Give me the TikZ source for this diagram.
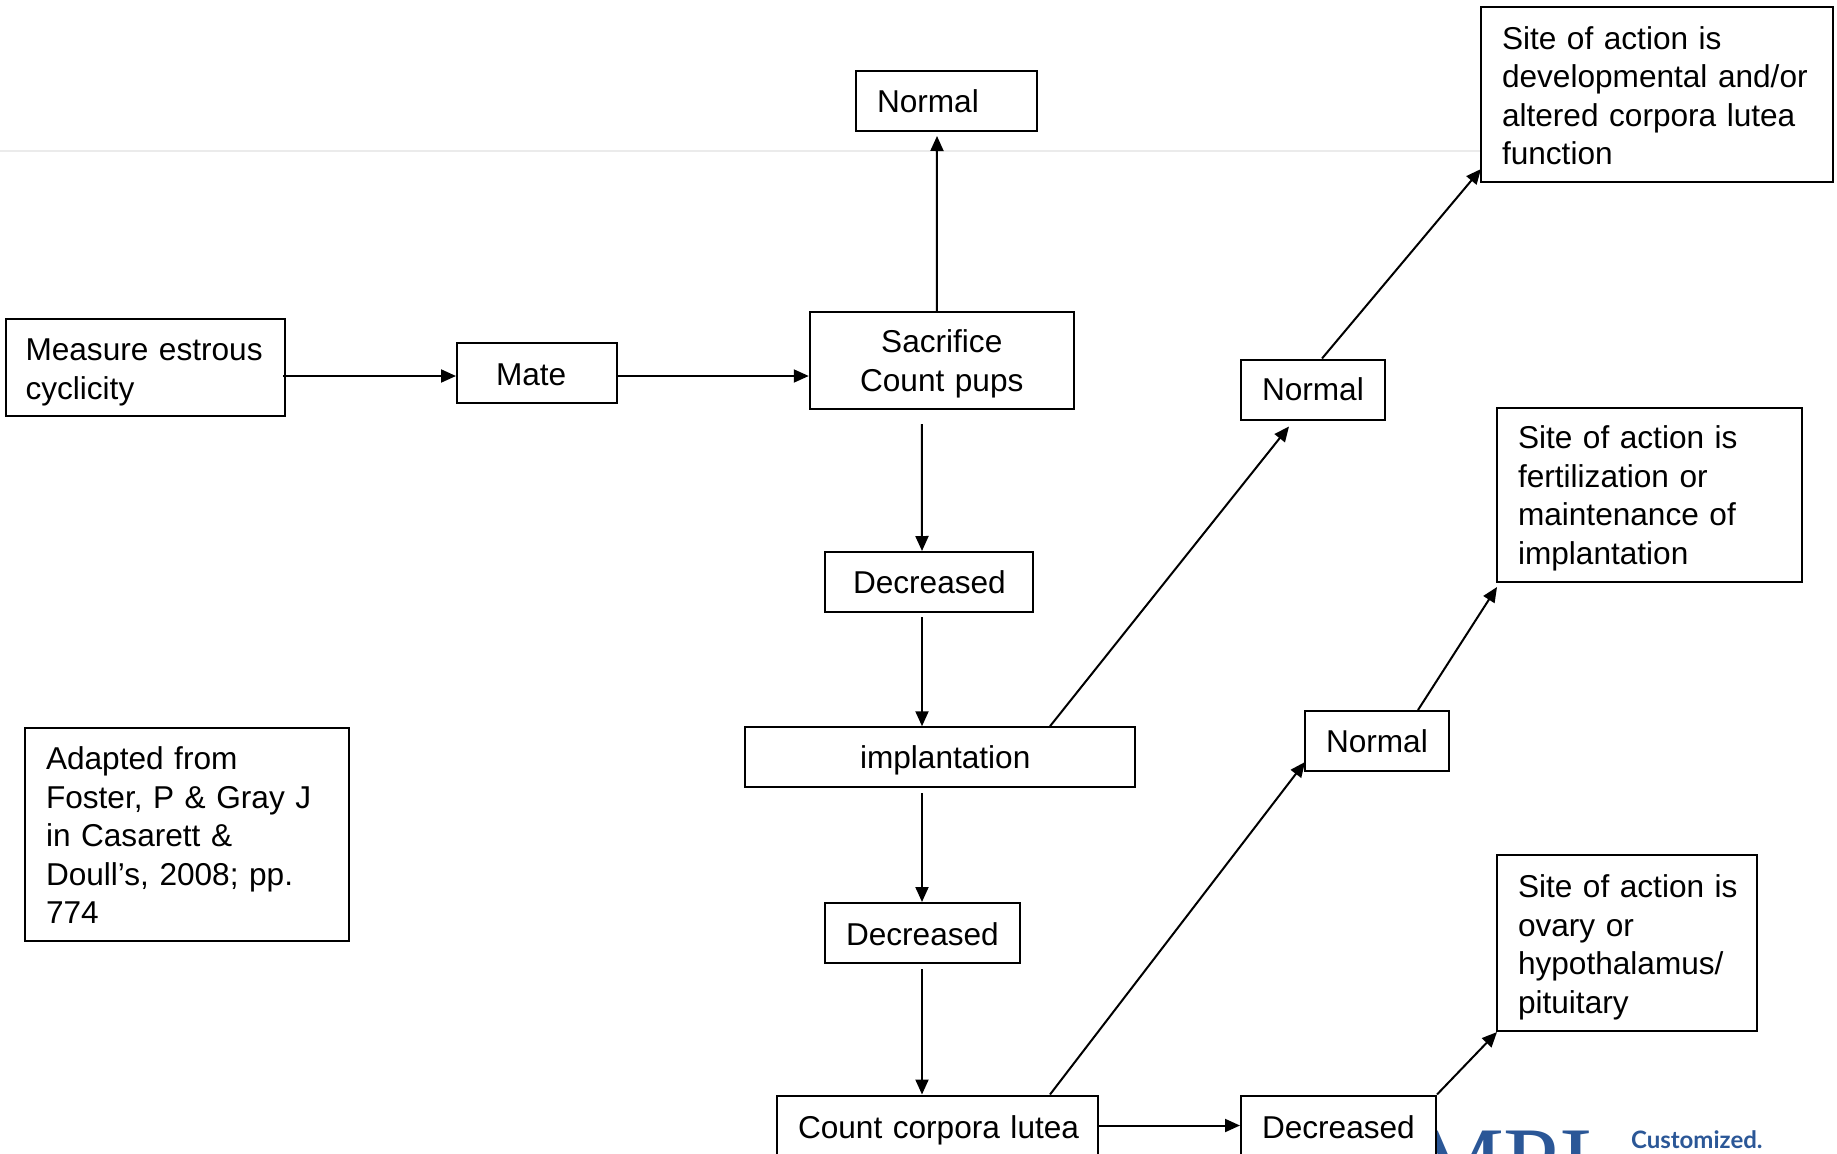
\documentclass[tikz,border=0pt]{standalone}
\usepackage{fontspec}
\setmainfont{Liberation Sans}
\newfontfamily\logoserif{Liberation Serif}
\newfontfamily\logosans{Lato}
\usepackage{xcolor}
\usetikzlibrary{arrows.meta}
\definecolor{logoblue}{HTML}{2B5797}

\begin{document}
\begin{tikzpicture}[x=1pt,y=-1pt,>={Triangle[length=15pt,width=13pt]},line width=2pt,
    labelbox/.style={draw,fill=white,align=left,inner ysep=0pt,font=\fontsize{31.6}{38.5}\selectfont},
    textdrop/.style={execute at begin node={\rule{0pt}{#1}}},
    logotext/.style={text=logoblue,inner sep=0pt,anchor=base west}]
                \useasboundingbox (0,0) rectangle (1837,1154);
                \clip (0,0) rectangle (1837,1154);
                \coordinate (ruleL) at (0,151);
                \coordinate (ruleR) at (1481,151);
                \draw[line width=1.5pt,color=black!8] (ruleL) -- (ruleR);
                \node[logotext,font=\logoserif\fontsize{100}{100}\selectfont] (logo) at (1414,1196) {MPI};
                \node[logotext,font=\logosans\bfseries\fontsize{24}{24}\selectfont] (slogan) at (1630,1148) {Customized.};
                \node[labelbox,text width=139pt,inner xsep=21pt,minimum height=60pt] (normalTop) at (946.5,101) {Normal};
                \node[labelbox,textdrop=25pt,text width=310pt,inner xsep=21pt,minimum height=175pt] (siteA) at (1657,94.5) {\mbox{Site of action is}\\\mbox{developmental and/or}\\altered corpora lutea\\function};
                \node[labelbox,textdrop=32pt,text width=240pt,inner xsep=19.5pt,minimum height=97pt] (measure) at (145.5,367.5) {\mbox{Measure estrous}\\cyclicity};
                \node[labelbox,textdrop=25pt,text width=82pt,inner xsep=39pt,minimum height=60pt] (mate) at (537,373) {Mate};
                \node[labelbox,textdrop=30pt,align=center,text width=222pt,inner xsep=21pt,minimum height=97pt] (sacrifice) at (941.75,360.5) {Sacrifice\\Count pups};
                \node[labelbox,text width=102pt,inner xsep=21pt,minimum height=60pt] (normalA) at (1313,389.5) {Normal};
                \node[labelbox,textdrop=30pt,text width=263pt,inner xsep=21pt,minimum height=174pt] (siteB) at (1649.5,495) {Site of action is\\fertilization or\\maintenance of\\implantation};
                \node[labelbox,text width=152pt,inner xsep=28pt,minimum height=60pt] (decreasedA) at (929,582) {\mbox{Decreased}};
                \node[labelbox,textdrop=30pt,text width=160pt,inner xsep=115pt,minimum height=60pt] (implant) at (940,757.25) {\mbox{implantation}};
                \node[labelbox,textdrop=25pt,text width=282pt,inner xsep=21pt,minimum height=213pt] (source) at (187,834.25) {Adapted from\\Foster, P \& Gray J\\in Casarett \&\\Doull’s, 2008; pp.\\774};
                \node[labelbox,text width=102pt,inner xsep=21pt,minimum height=60pt] (normalB) at (1377,741) {Normal};
                \node[labelbox,textdrop=32pt,text width=218pt,inner xsep=21pt,minimum height=176pt] (siteC) at (1627,943) {\mbox{Site of action is}\\ovary or\\\mbox{hypothalamus/}\\pituitary};
                \node[labelbox,textdrop=25pt,text width=153pt,inner xsep=21pt,minimum height=60pt] (decreasedB) at (922.5,933) {\mbox{Decreased}};
                \node[labelbox,textdrop=32pt,text width=279pt,inner xsep=21pt,minimum height=60pt] (lutea) at (937.5,1125.5) {\mbox{Count corpora lutea}};
                \node[labelbox,textdrop=27pt,text width=153pt,inner xsep=21pt,minimum height=60pt] (decreasedC) at (1338.5,1125.5) {\mbox{Decreased}};
                \path[->]
                    ([xshift=-5pt]sacrifice.north) edge ([xshift=-9.5pt,yshift=-4pt]normalTop.south)
                    ([xshift=-3pt,yshift=-8.5pt]measure.east) edge ([yshift=-3pt]mate.west)
                    ([yshift=-3pt]mate.east) edge ([yshift=-15.5pt]sacrifice.west)
                    ([xshift=-20pt,yshift=-14pt]sacrifice.south) edge ([xshift=-7pt]decreasedA.north)
                    ([xshift=-7pt,yshift=-4pt]decreasedA.south) edge ([xshift=-18pt]implant.north)
                    ([xshift=-18pt,yshift=-5pt]implant.south) edge ([xshift=-.5pt]decreasedB.north)
                    ([xshift=-.5pt,yshift=-5pt]decreasedB.south) edge ([xshift=-15.5pt]lutea.north)
                    (lutea.east) edge (decreasedC.west)
                    ([xshift=110pt]implant.north) edge ([xshift=-24pt,yshift=-6pt]normalA.south)
                    ([xshift=9pt]normalA.north) edge ([xshift=1pt,yshift=-74.5pt]siteA.west)
                    ([xshift=112.5pt]lutea.north) edge ([xshift=1pt,yshift=-21pt]normalB.west)
                    ([xshift=41pt]normalB.north) edge ([xshift=1pt,yshift=-4pt]siteB.south west)
                    (decreasedC.north east) edge ([xshift=1pt]siteC.south west);
            \end{tikzpicture}
\end{document}
